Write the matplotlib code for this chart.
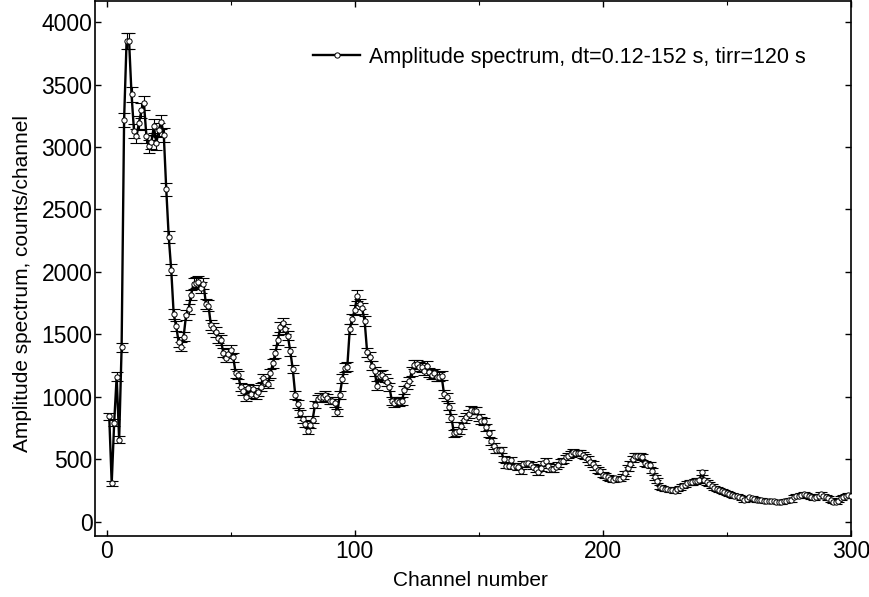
import matplotlib
matplotlib.use("Agg")
import matplotlib.pyplot as plt
from matplotlib.ticker import MultipleLocator
import numpy as np

plt.rcParams['font.family'] = ['Liberation Sans', 'DejaVu Sans']

# amplitude spectrum, counts per channel (channels 1..300)
channels = np.arange(1, 301)
counts = np.array([
    845, 307, 793, 1162, 657, 1397, 3218, 3850, 3850, 3421,
    3127, 3085, 3195, 3293, 3352, 3085, 3005, 3037, 3165, 3031,
    3140, 3200, 3098, 2660, 2279, 2017, 1661, 1565, 1437, 1402,
    1482, 1656, 1704, 1816, 1905, 1915, 1920, 1875, 1905, 1744,
    1730, 1576, 1552, 1520, 1472, 1456, 1354, 1312, 1346, 1378,
    1317, 1188, 1175, 1076, 1050, 996, 1071, 1023, 1063, 1018,
    1036, 1076, 1151, 1116, 1103, 1188, 1268, 1349, 1456, 1557,
    1589, 1544, 1490, 1365, 1223, 1018, 943, 868, 820, 783,
    729, 777, 815, 938, 986, 996, 1002, 1018, 991, 970,
    970, 948, 876, 1018, 1146, 1232, 1242, 1544, 1624, 1696,
    1811, 1744, 1707, 1605, 1357, 1322, 1250, 1204, 1090, 1170,
    1178, 1151, 1116, 1076, 964, 948, 964, 956, 964, 1055,
    1092, 1124, 1204, 1258, 1263, 1242, 1236, 1210, 1250, 1196,
    1178, 1188, 1162, 1162, 1170, 1023, 1002, 921, 831, 708,
    716, 729, 769, 815, 841, 863, 895, 889, 889, 836,
    809, 804, 756, 708, 643, 609, 574, 574, 574, 500,
    449, 449, 494, 441, 449, 435, 403, 462, 467, 467,
    457, 441, 420, 395, 430, 467, 489, 449, 422, 422,
    441, 457, 483, 489, 515, 530, 542, 555, 547, 547,
    547, 537, 521, 502, 475, 462, 435, 414, 403, 377,
    369, 355, 345, 334, 350, 342, 342, 361, 387, 430,
    462, 502, 529, 529, 529, 520, 467, 457, 457, 409,
    355, 329, 275, 270, 264, 262, 254, 254, 248, 262,
    270, 285, 296, 310, 315, 315, 323, 329, 334, 395,
    330, 315, 302, 285, 270, 262, 254, 248, 235, 227,
    222, 214, 208, 204, 200, 190, 174, 182, 195, 190,
    182, 174, 174, 174, 168, 163, 163, 168, 163, 160,
    155, 155, 163, 168, 170, 174, 200, 205, 208, 214,
    222, 215, 208, 195, 190, 200, 208, 222, 208, 200,
    190, 174, 160, 155, 168, 190, 200, 208, 216, 208,
], dtype=float)
errors = np.sqrt(counts)  # Poisson statistics

series_label = "Amplitude spectrum, dt=0.12-152 s, tirr=120 s"

fig = plt.figure(figsize=(8.69, 5.97), dpi=100)
ax = fig.add_axes([0.1097, 0.1027, 0.8693, 0.8948])

ax.errorbar(channels, counts, yerr=errors, fmt='none', ecolor='black',
            elinewidth=0.8, capsize=4.5, capthick=0.8, zorder=2)
ax.plot(channels, counts, '-o', color='black', lw=1.7, ms=3.8,
        mfc='white', mec='black', mew=0.7, label=series_label, zorder=3)

ax.set_xlim(-4.6, 300)
ax.set_ylim(-112, 4165)
ax.xaxis.set_major_locator(MultipleLocator(100))
ax.xaxis.set_minor_locator(MultipleLocator(50))
ax.yaxis.set_major_locator(MultipleLocator(500))

ax.tick_params(which='both', direction='in', top=True, right=True,
               labelsize=16.5)
ax.tick_params(which='major', length=4, width=1)
ax.tick_params(which='minor', length=3, width=0.8)
ax.tick_params(axis='y', pad=2)
ax.tick_params(axis='x', pad=3)
for s in ax.spines.values():
    s.set_linewidth(1.2)

ax.set_xlabel("Channel number", fontsize=15, va='center')
ax.set_ylabel("Amplitude spectrum, counts/channel", fontsize=15, va='center')
ax.xaxis.set_label_coords(0.497, -0.083)
ax.yaxis.set_label_coords(-0.097, 0.473)

ax.legend(loc='center left', bbox_to_anchor=(0.288, 0.896), frameon=False,
          fontsize=15.5, borderpad=0, borderaxespad=0, handlelength=2.2,
          handletextpad=0.4)

fig.savefig("out.png", dpi=100)
